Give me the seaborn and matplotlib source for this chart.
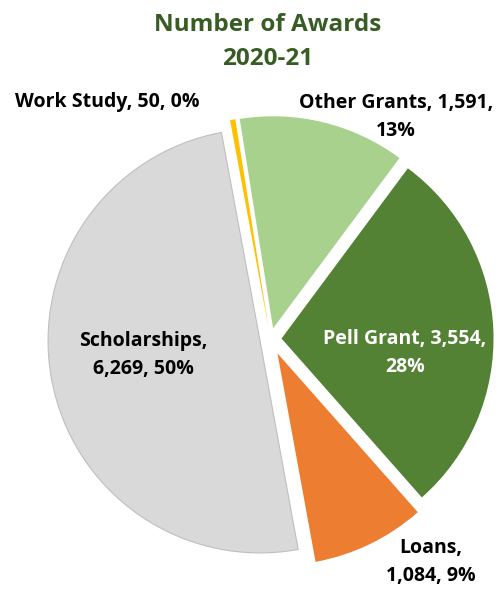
import matplotlib
matplotlib.use('Agg')
import matplotlib.pyplot as plt
import seaborn as sns

# Award data, clockwise from the top
categories = ['Work Study', 'Other Grants', 'Pell Grant', 'Loans', 'Scholarships']
awards = [50, 1591, 3554, 1084, 6269]
percents = ['0%', '13%', '28%', '9%', '50%']
colors = ['#FFC000', '#A9D18E', '#548235', '#ED7D31', '#D9D9D9']

sns.set_theme(style='white')
plt.rcParams['font.family'] = ['Open Sans', 'DejaVu Sans']

fig = plt.figure(figsize=(5.04, 5.91), dpi=100)
ax = fig.add_axes([0, 0, 1, 1])

# pie center/radius in pixels of the original picture
cx, cy, r = 270.5, 339.0, 212.0
W, H = 504, 591

wedges, _ = ax.pie(awards, colors=colors, startangle=100.5, counterclock=False,
                   explode=[0.05, 0.052, 0.052, 0.075, 0.05],
                   wedgeprops=dict(linewidth=0))
wedges[4].set_edgecolor('#BFBFBF')
wedges[4].set_linewidth(0.8)

ax.set_xlim(-cx / r, (W - cx) / r)
ax.set_ylim(-(H - cy) / r, cy / r)
ax.set_aspect('equal')
ax.axis('off')

# title
fig.text(268 / W, 1 - 42 / H, 'Number of Awards\n2020-21', ha='center', va='center',
         fontsize=17.5, fontweight='bold', color='#385D24', linespacing=1.6)

# data labels: (x px, y px, layout, text colour)
label_pos = {
    0: (107, 102, '{0}, {1:,}, {2}', 'black'),
    1: (396, 117, '{0}, {1:,},\n{2}', 'black'),
    2: (405, 353, '{0}, {1:,},\n{2}', 'white'),
    3: (431, 562, '{0},\n{1:,}, {2}', 'black'),
    4: (143, 355, '{0},\n{1:,}, {2}', 'black'),
}
for i, (px, py, tmpl, col) in label_pos.items():
    fig.text(px / W, 1 - py / H, tmpl.format(categories[i], awards[i], percents[i]),
             ha='center', va='center', fontsize=14, fontweight='bold',
             color=col, linespacing=1.5)

fig.savefig('out.png', dpi=100)
